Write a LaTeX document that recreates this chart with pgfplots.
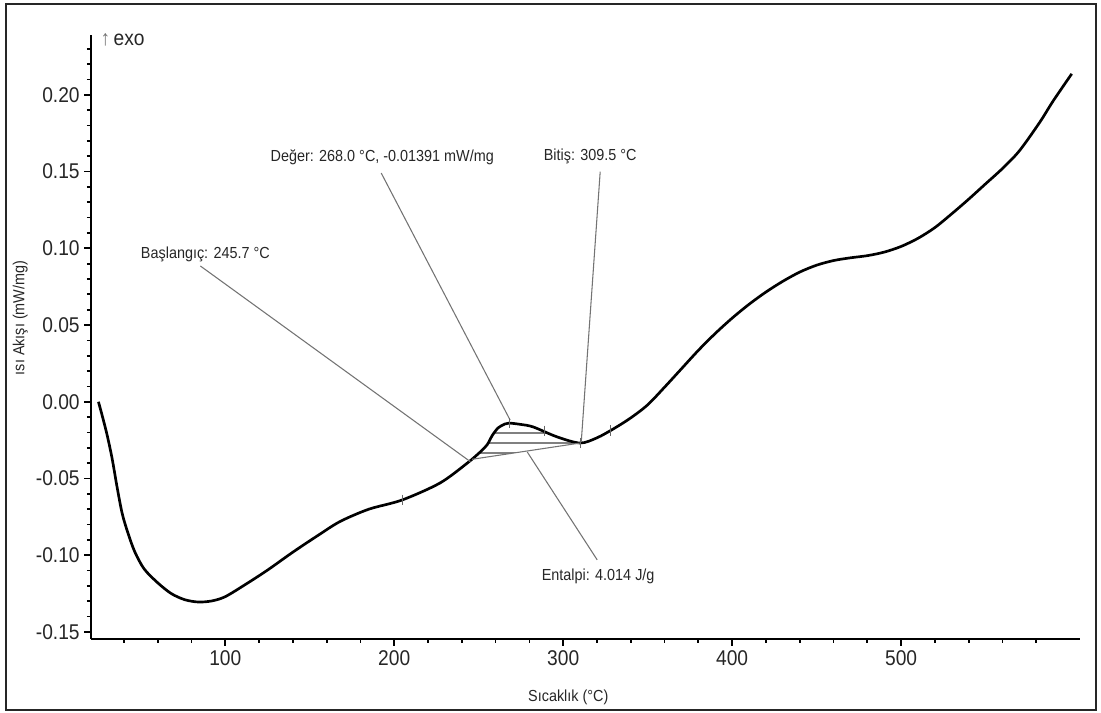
\documentclass[border=0pt]{standalone}
\usepackage{fontspec}
\setmainfont{Liberation Sans}[FakeStretch=0.9]
\usepackage{pgfplots}
\pgfplotsset{compat=1.18}
\usepgfplotslibrary{fillbetween}
\usetikzlibrary{patterns.meta}

\begin{document}
\begin{tikzpicture}[x=1pt,y=1pt,
  note/.style={font=\fontsize{12}{12}\selectfont, text=black!85, inner sep=0pt},
  leader/.style={draw=black!55, line width=0.8pt}]
% page and outer frame
\path (0,0) rectangle (825.75,534.75);
\draw[line width=1.5pt, black!85] (4.5,2.25) rectangle (822,531.75);
\begin{axis}[
  at={(68.25pt,55.5pt)}, anchor=south west,
  scale only axis, width=741.75pt, height=453pt,
  xmin=20.5, xmax=605.9, ymin=-0.1546, ymax=0.239,
  axis x line*=bottom, axis y line*=left,
  axis line style={line width=1.5pt, -},
  tick align=outside,
  major tick length=5pt, minor tick length=3pt,
  every tick/.style={line width=1.3pt, black},
  xtick={100,200,300,400,500},
  minor xtick={40,60,80,120,140,160,180,220,240,260,280,320,340,360,380,420,440,460,480,520,540,560,580},
  ytick={-0.15,-0.10,-0.05,0,0.05,0.10,0.15,0.20},
  minor ytick={-0.14,-0.13,-0.12,-0.11,-0.09,-0.08,-0.07,-0.06,-0.04,-0.03,-0.02,-0.01,0.01,0.02,0.03,0.04,0.06,0.07,0.08,0.09,0.11,0.12,0.13,0.14,0.16,0.17,0.18,0.19,0.21,0.22,0.23},
  /pgf/number format/assume math mode=true,
  yticklabel style={/pgf/number format/fixed, /pgf/number format/fixed zerofill, /pgf/number format/precision=2},
  tick label style={font=\fontsize{16}{16}\selectfont, text=black!85},
  clip=false,
]
% DSC heat-flow curve
\addplot[name path=curve, line width=2pt, black, smooth, tension=0.5] coordinates {
  (24.9,0.000) (27.0,-0.0085) (30.0,-0.0215) (33.0,-0.037) (36.0,-0.056)
  (39.0,-0.073) (42.5,-0.086) (46.5,-0.098) (52,-0.109) (60,-0.118)
  (68,-0.125) (76,-0.129) (84,-0.1305) (92,-0.1298) (100,-0.1270)
  (112,-0.119) (125,-0.1097) (140,-0.098) (155,-0.087) (168,-0.078)
  (185,-0.070) (204.7,-0.064) (227,-0.053) (243.2,-0.040) (250.9,-0.0327)
  (255,-0.028) (258,-0.022) (261.5,-0.017) (265.5,-0.0145) (268,-0.0139)
  (275,-0.0148) (282.2,-0.0164) (296.4,-0.0229) (310,-0.0269) (320,-0.0235)
  (330,-0.0175) (340,-0.0105) (350,-0.002) (360,0.0095) (370,0.0215)
  (380,0.0335) (390,0.0445) (400,0.0545) (410,0.0635) (420,0.0715)
  (430,0.0785) (440,0.0845) (450,0.0890) (460,0.0920) (470,0.0938)
  (480,0.0952) (490,0.0975) (500,0.1012) (510,0.1065) (520,0.1135)
  (530,0.1225) (540,0.1320) (550,0.1420) (560,0.1520) (570,0.1635)
  (582,0.1820) (590,0.1960) (601,0.2137)
};
% integration baseline and hatched peak area
\addplot[name path=base, black!55, line width=0.8pt] coordinates {(246,-0.0375) (310,-0.0269)};
\addplot[pattern={Lines[angle=0,distance=7.5pt,line width=0.8pt]}, pattern color=black!50, draw=none]
  fill between[of=curve and base, soft clip={domain=246:310}];
% evaluation limits on the curve
\addplot[only marks, mark=|, mark size=4pt, black!60, line width=0.7pt] coordinates {
  (204.7,-0.064) (268,-0.0139) (289,-0.019) (310,-0.0269) (328,-0.0188)};
% leaders and their labels
\draw[leader] (axis cs:85.2,0.0885) -- (axis cs:245,-0.039);
\draw[leader] (axis cs:192.3,0.149) -- (axis cs:268.6,-0.012);
\draw[leader] (axis cs:321.9,0.150) -- (axis cs:310.7,-0.026);
\draw[leader] (axis cs:320.1,-0.103) -- (axis cs:278.7,-0.0327);
\node[note] at (axis cs:88.2,0.0963) {Başlangıç: 245.7 °C};
\node[note] at (axis cs:192.9,0.1596) {Değer: 268.0 °C, -0.01391 mW/mg};
\node[note] at (axis cs:316,0.1596) {Bitiş: 309.5 °C};
\node[note] at (axis cs:320.7,-0.114) {Entalpi: 4.014 J/g};
% axis titles
\node[note] at (axis cs:303,-0.1924) {Sıcaklık (°C)};
\node[note, rotate=90] at (axis cs:-21.3,0.0546) {ısı Akışı (mW/mg)};
\node[anchor=west, inner sep=0pt, font=\fontsize{16}{16}\selectfont, text=black!85] at (axis cs:26,0.2359) {{\color{black!55}↑}\,exo};
\end{axis}
\end{tikzpicture}
\end{document}
